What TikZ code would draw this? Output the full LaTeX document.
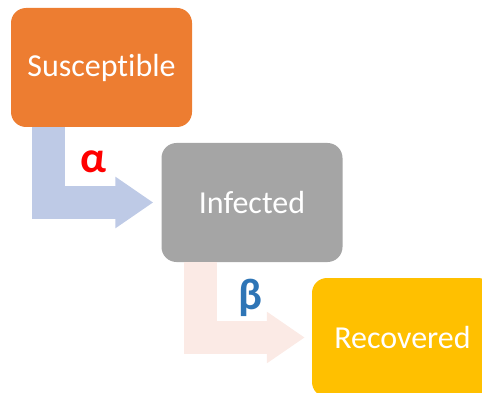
\documentclass[tikz,border=0pt]{standalone}
\usepackage{fontspec}
\setmainfont{Carlito}[Ligatures=NoCommon]
\usetikzlibrary{arrows.meta, positioning, calc}
\definecolor{corange}{HTML}{ED7D31}
\definecolor{cgrey}{HTML}{A5A5A5}
\definecolor{cgold}{HTML}{FFC000}
\definecolor{cblue}{HTML}{BECAE6}
\definecolor{cpeach}{HTML}{FBEAE5}
\definecolor{cred}{HTML}{FF0000}
\definecolor{cbeta}{HTML}{2E75B6}
\tikzset{
  every picture/.style={x=1pt, y=-1pt},
  state/.style={fill=#1, rounded corners=15pt, minimum width=181pt, minimum height=119pt, inner sep=0pt,
    text=white, font=\fontsize{32}{38}\selectfont},
  state/.default=cgrey,
  flow/.style={draw=#1, line width=33pt, -{Triangle[length=38pt, width=49pt]}},
  rate/.style={text=#1, font=\fontsize{44}{48}\selectfont\bfseries, inner sep=0pt},
}

\begin{document}
\begin{tikzpicture}
  \clip (0,0) rectangle (482,393);
  \node[state=corange] (sus) at (101.5,67.5) {Susceptible};
  \node[state=cgrey] (inf) at (252,202.5) {Infected};
  \node[state=cgold] (rec) at (402.5,337.5) {Recovered};
  \draw[flow=cblue, shorten >=8pt] ($(sus.south west)+(38,0)$) |- (inf.west);
  \draw[flow=cpeach, shorten >=7pt] ($(inf.south west)+(39.5,0)$) |- (rec.west);
  \node[rate=cred] (alpha) at (93.5,162) {α};
  \node[rate=cbeta] (beta) at (250,297.5) {β};
\end{tikzpicture}
\end{document}
